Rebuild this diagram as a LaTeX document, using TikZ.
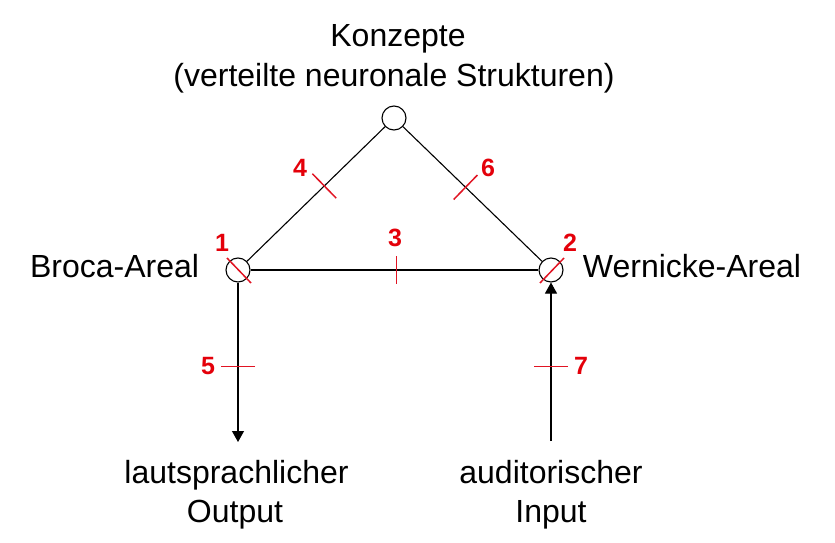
\documentclass[tikz,border=0pt]{standalone}
\usepackage{fontspec}
\setmainfont{Liberation Sans}
\usetikzlibrary{arrows.meta,calc}
\definecolor{numred}{RGB}{228,0,10}
\definecolor{tickred}{RGB}{225,20,35}
\tikzset{
  area/.style={circle,draw,line width=1.1pt,minimum size=24pt,inner sep=0pt,fill=white},
  conn/.style={line width=1.1pt},
  lbl/.style={font=\fontsize{32}{36}\selectfont,inner sep=0pt,anchor=base},
  num/.style={font=\fontsize{25}{27}\selectfont\bfseries,text=numred,inner sep=0pt},
  tick/.style={draw=tickred,line width=1.5pt},
  arr/.style={conn,-{Triangle[width=12pt,length=11pt]}}
}
\begin{document}
\begin{tikzpicture}[x=1pt,y=-1pt]
\useasboundingbox (0,0) rectangle (835,543);
\fill[white] (0,0) rectangle (835,543);
% nodes
\node[area] (top) at (394,118) {};
\node[area] (broca) at (238,270) {};
\node[area] (wern) at (551,270) {};
% connectors
\draw[conn] (broca) -- (top);
\draw[conn] (top) -- (wern);
\draw[conn] (broca) -- (wern);
\coordinate (out) at (238,442);
\coordinate (inend) at (551,441);
\draw[arr] (broca) -- (out);
\draw[arr] (inend) -- (wern);
% slashes through circles
\draw[tick] (227,258) -- (251,283);
\draw[tick] (540,283) -- (564,258);
% ticks
\path (broca) -- (top) coordinate[pos=0.56] (m4);
\path (top) -- (wern) coordinate[pos=0.45] (m6);
\coordinate (m3) at (396.5,270);
\coordinate (m5) at (238,366.5);
\coordinate (m7) at (551,366.5);
\draw[tick] ($(m4)!17pt!90:(top)$) -- ($(m4)!17pt!-90:(top)$);
\draw[tick] ($(m6)!17pt!90:(wern)$) -- ($(m6)!17pt!-90:(wern)$);
\draw[tick] ($(m3)!14pt!90:(wern)$) -- ($(m3)!14pt!-90:(wern)$);
\draw[tick] ($(m5)!17pt!90:(out)$) -- ($(m5)!17pt!-90:(out)$);
\draw[tick] ($(m7)!17pt!90:(wern)$) -- ($(m7)!17pt!-90:(wern)$);
% numbers
\node[num] (n1) at (222,243) {1};
\node[num] (n2) at (570,243) {2};
\node[num] (n3) at (395,238) {3};
\node[num] (n4) at (300,168) {4};
\node[num] (n6) at (488,168) {6};
\node[num] (n5) at (208,366) {5};
\node[num] (n7) at (581,366) {7};
% labels
\node[lbl] (k1) at (398,47) {Konzepte};
\node[lbl] (k2) at (394,86) {(verteilte neuronale Strukturen)};
\node[lbl] (bl) at (114.5,277) {Broca-Areal};
\node[lbl] (wl) at (692,277) {Wernicke-Areal};
\node[lbl] (o1) at (236.5,483) {lautsprachlicher};
\node[lbl] (o2) at (235,522) {Output};
\node[lbl] (i1) at (551,483) {auditorischer};
\node[lbl] (i2) at (551,522) {Input};
\end{tikzpicture}
\end{document}
